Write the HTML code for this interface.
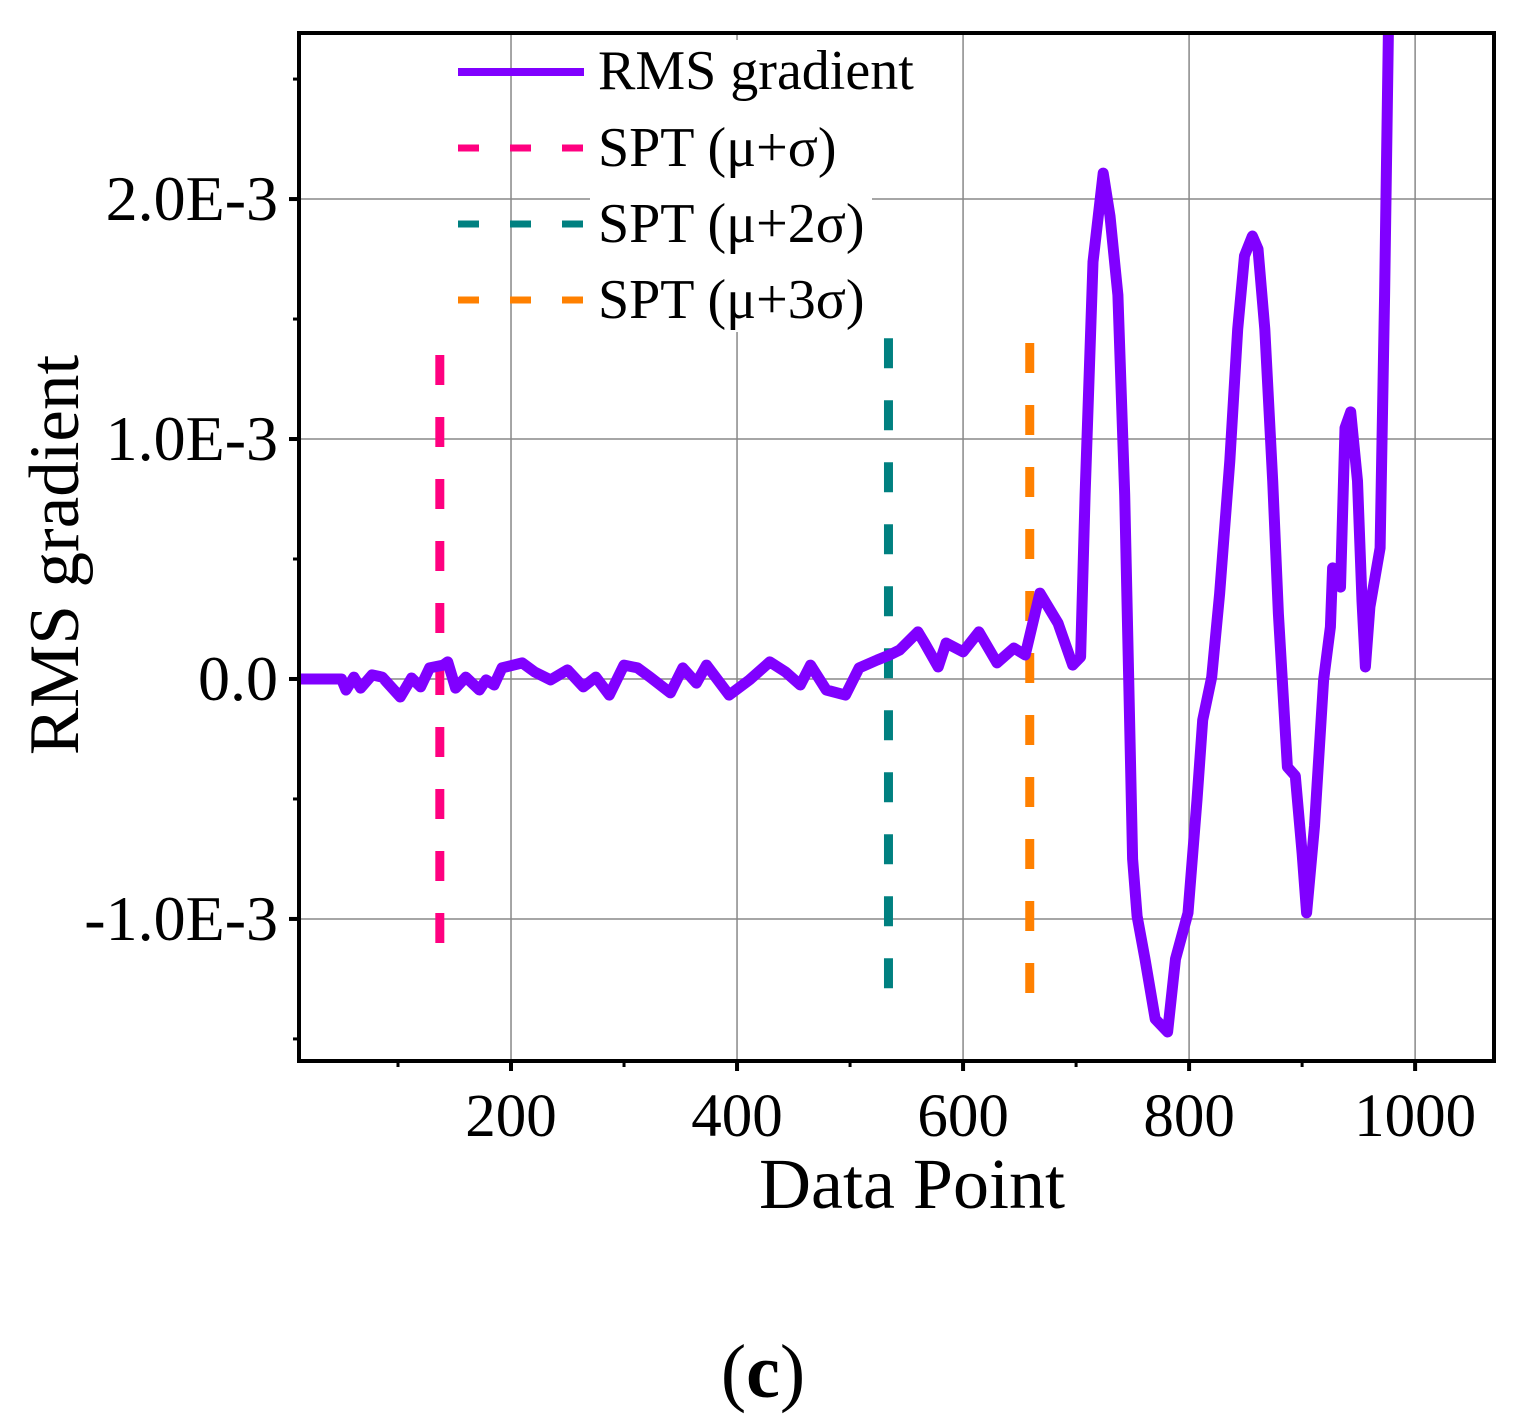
<!DOCTYPE html>
<html><head><meta charset="utf-8">
<style>
html,body{margin:0;padding:0;background:#fff;}
svg{display:block;}
text{font-family:"Liberation Serif","DejaVu Serif",serif;fill:#000;}
</style></head>
<body>
<svg id="chart" width="1519" height="1427" viewBox="0 0 1519 1427" xmlns="http://www.w3.org/2000/svg">
<defs><clipPath id="plotclip"><rect x="299" y="33" width="1195" height="1028"/></clipPath></defs>
<g id="grid"></g>
<g id="series" clip-path="url(#plotclip)"></g>
<rect x="299" y="33" width="1195" height="1028" fill="none" stroke="#000" stroke-width="4"/>
<g id="axes"></g>
<g>
<rect x="590" y="40" width="282" height="292" fill="#fff"/>
<line x1="458" y1="72" x2="584" y2="72" stroke="#8000ff" stroke-width="8"/>
<text x="598" y="89" font-size="56">RMS gradient</text>
<line x1="458" y1="148" x2="584" y2="148" stroke="#ff0080" stroke-width="7" stroke-dasharray="21 31"/>
<text x="598" y="166" font-size="56">SPT (μ+σ)</text>
<line x1="458" y1="224" x2="584" y2="224" stroke="#008080" stroke-width="7" stroke-dasharray="21 31"/>
<text x="598" y="242" font-size="56">SPT (μ+2σ)</text>
<line x1="458" y1="300" x2="584" y2="300" stroke="#ff8000" stroke-width="7" stroke-dasharray="21 31"/>
<text x="598" y="318" font-size="56">SPT (μ+3σ)</text>
</g>
<text x="912" y="1208" font-size="72" text-anchor="middle">Data Point</text>
<text transform="translate(78,555) rotate(-90)" font-size="71" text-anchor="middle">RMS gradient</text>
<text x="763" y="1397" font-size="76" text-anchor="middle">(<tspan font-weight="bold">c</tspan>)</text>
</svg>
<script>
const xTicks = [200, 400, 600, 800, 1000];
const xMinorTicks = [100, 300, 500, 700, 900];
const yTicks = [-1.0, 0.0, 1.0, 2.0];
const yTickLabels = ["-1.0E-3", "0.0", "1.0E-3", "2.0E-3"];
const yMinorTicks = [-1.5, -0.5, 0.5, 1.5, 2.5];
// RMS gradient series (y in units of 1E-3)
const rmsX = [13,34,50,54,61,67,77,86,102,112,120,128,140,144,151,160,172,178,185,192,210,221,235,250,264,275,287,300,312,323,341,352,364,373,393,411,429,443,456,465,479,496,508,524,535,544,560,566,578,585,600,614,630,645,655,668,684,697,704,708,715,724,730,737,743,750,754,761,770,781,788,799,807,812,820,827,836,843,849,856,861,867,874,879,887,894,900,904,911,919,925,927,934,938,943,949,953,956,960,969,973,977];
const rmsY = [0,0,0,-0.046,0.008,-0.038,0.017,0.008,-0.075,0.004,-0.033,0.046,0.058,0.071,-0.038,0.008,-0.046,-0.004,-0.025,0.046,0.067,0.029,-0.004,0.038,-0.033,0.008,-0.067,0.058,0.046,0.008,-0.058,0.046,-0.017,0.058,-0.067,-0.004,0.071,0.029,-0.025,0.058,-0.046,-0.067,0.046,0.079,0.1,0.121,0.196,0.15,0.05,0.15,0.113,0.196,0.067,0.129,0.1,0.358,0.233,0.058,0.092,0.767,1.738,2.108,1.929,1.6,0.767,-0.75,-0.988,-1.167,-1.417,-1.471,-1.167,-0.975,-0.504,-0.171,0.008,0.354,0.908,1.458,1.763,1.846,1.792,1.458,0.825,0.271,-0.367,-0.404,-0.725,-0.975,-0.613,-0.004,0.217,0.463,0.383,1.046,1.113,0.825,0.325,0.05,0.3,0.546,1.6,2.9];
const sptNames = ["spt-mu-plus-sigma","spt-mu-plus-2sigma","spt-mu-plus-3sigma"];
const sptX = [137, 534, 659];
const sptTop = [1.35, 1.42, 1.40];
const sptBottom = [-1.163, -1.317, -1.367];
const sptColors = ["#ff0080","#008080","#ff8000"];

const NS = "http://www.w3.org/2000/svg";
const X0 = 299, X1 = 1494, Y0 = 33, Y1 = 1061;
const xMin = 12.4, xMax = 1069.8, yMin = -1.592, yMax = 2.692;
const sx = v => X0 + (v - xMin) / (xMax - xMin) * (X1 - X0);
const sy = v => Y1 - (v - yMin) / (yMax - yMin) * (Y1 - Y0);
function mk(tag, attrs, parent){const e=document.createElementNS(NS,tag);for(const k in attrs)e.setAttribute(k,attrs[k]);parent.appendChild(e);return e;}
const grid=document.getElementById('grid'), axes=document.getElementById('axes'), series=document.getElementById('series');

xTicks.forEach(v=>{
  const g=mk('line',{x1:sx(v),x2:sx(v),y1:Y0,y2:Y1,stroke:'#888','stroke-width':1.5},grid);
  
  
  const t=mk('line',{x1:sx(v),x2:sx(v),y1:Y1,y2:Y1+10,stroke:'#000','stroke-width':4},axes);
  
  
  const l=mk('text',{x:sx(v),y:1136,'font-size':61,'text-anchor':'middle'},axes);
  l.textContent=v;
  
  
});
xMinorTicks.forEach(v=>{
  const t=mk('line',{x1:sx(v),x2:sx(v),y1:Y1,y2:Y1+6,stroke:'#000','stroke-width':3},axes);
  
  
});
yTicks.forEach((v,i)=>{
  const g=mk('line',{x1:X0,x2:X1,y1:sy(v),y2:sy(v),stroke:'#888','stroke-width':1.5},grid);
  
  
  const t=mk('line',{x1:X0-10,x2:X0,y1:sy(v),y2:sy(v),stroke:'#000','stroke-width':4},axes);
  
  
  const l=mk('text',{x:278,y:sy(v)+21,'font-size':64,'text-anchor':'end'},axes);
  l.textContent=yTickLabels[i];
  
  
});
yMinorTicks.forEach(v=>{
  const t=mk('line',{x1:X0-6,x2:X0,y1:sy(v),y2:sy(v),stroke:'#000','stroke-width':3},axes);
  
  
});
sptX.forEach((v,i)=>{
  const l=mk('line',{x1:sx(v),x2:sx(v),y1:sy(sptTop[i]),y2:sy(sptBottom[i]),stroke:sptColors[i],'stroke-width':9,'stroke-dasharray':'30 32'},series);
  
  
});
const pts=rmsX.map((v,i)=>sx(v).toFixed(1)+','+sy(rmsY[i]).toFixed(1)).join(' ');
const p=mk('polyline',{points:pts,fill:'none',stroke:'#8000ff','stroke-width':11,'stroke-linejoin':'round','stroke-linecap':'round'},series);


</script>
</body></html>
